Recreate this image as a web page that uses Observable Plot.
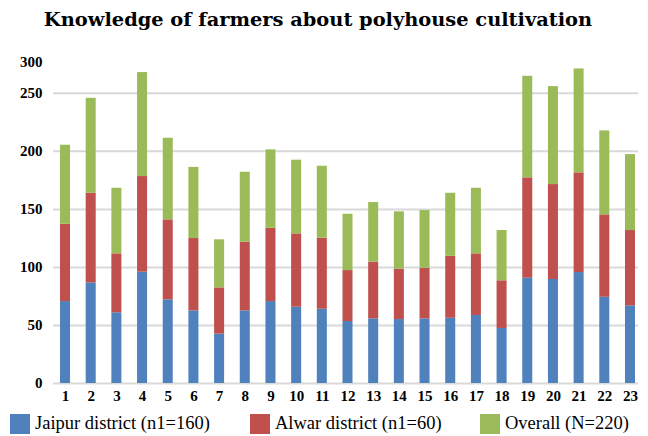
<!DOCTYPE html>
<html>
<head>
<meta charset="utf-8">
<script src="https://cdn.jsdelivr.net/npm/d3@7"></script>
<script src="https://cdn.jsdelivr.net/npm/@observablehq/plot@0.6"></script>
<style>
  body { margin: 0; width: 648px; height: 436px; position: relative; background: #fff; overflow: hidden; }
  #title { position: absolute; left: 0; top: 8px; width: 636px; text-align: center;
           font-family: "DejaVu Serif", serif; font-weight: bold; font-size: 19.4px; line-height: 24px; color: #000; white-space: nowrap; }
  #chart { position: absolute; left: 0; top: 40px; }
  #chart svg text { font-family: "Liberation Serif", serif !important; font-weight: bold !important; font-size: 15px !important; fill: #000; }
  #legend { position: absolute; left: 0; top: 410px; width: 648px; height: 26px; }
  .sw { position: absolute; top: 4px; width: 20px; height: 20px; }
  .lt { position: absolute; top: 2px; font-family: "Liberation Serif", serif; font-size: 18.5px; line-height: 22px; color: #000; white-space: nowrap; }
</style>
</head>
<body>
<div id="title">Knowledge of farmers about polyhouse cultivation</div>
<div id="chart"></div>
<div id="legend"></div>
<script>
// ---- data ----
const questions = [1,2,3,4,5,6,7,8,9,10,11,12,13,14,15,16,17,18,19,20,21,22,23];
const seriesNames = ["Jaipur district (n1=160)", "Alwar district (n1=60)", "Overall (N=220)"];
const seriesColors = ["#4f81bd", "#c0504d", "#9bbb59"];
const jaipur  = [70.6, 86.7, 60.9, 95.9, 72.1, 62.6, 42.5, 62.6, 70.6, 65.7, 64.0, 53.4, 55.7, 55.1, 55.7, 56.2, 58.6, 47.4, 90.7, 89.6, 95.6, 74.3, 66.9];
const alwar   = [66.6, 77.2, 50.8, 82.4, 68.9, 62.3, 39.9, 59.1, 63.2, 63.2, 61.2, 43.9, 48.8, 43.4, 43.6, 53.4, 53.1, 41.1, 86.5, 81.8, 85.9, 71.0, 64.9];
const overall = [68.1, 81.8, 56.5, 89.6, 70.3, 61.3, 41.4, 60.3, 67.5, 63.5, 62.0, 48.5, 51.4, 49.4, 49.7, 54.3, 56.5, 43.3, 87.5, 84.4, 89.5, 72.3, 65.4];
const yTicks = [0, 50, 100, 150, 200, 250];
const yTopLabel = ["300"];

const seriesValues = [jaipur, alwar, overall];
const rows = questions.flatMap((q, i) =>
  seriesNames.map((s, k) => ({ q, series: s, value: seriesValues[k][i] })));

const chart = Plot.plot({
  width: 648,
  height: 370,
  marginTop: 21.5,
  marginBottom: 27,
  marginLeft: 53,
  marginRight: 10,
  style: { background: "transparent", color: "#000" },
  x: { domain: questions, range: [53, 642], paddingInner: 0.61, paddingOuter: 0.273, align: 0.5, round: false },
  y: { domain: [0, 277] },
  color: { domain: seriesNames, range: seriesColors },
  marks: [
    Plot.ruleY(yTicks, { stroke: "#d9d9d9", strokeWidth: 2 }),
    Plot.barY(rows, { x: "q", y: "value", fill: "series" }),
    Plot.axisY(yTicks, { tickSize: 0, tickPadding: 11, label: null }),
    Plot.text(yTopLabel, { text: d => d, frameAnchor: "top-left", lineAnchor: "middle", dx: -11, textAnchor: "end" }),
    Plot.axisX({ tickSize: 0, tickPadding: 7, label: null })
  ]
});
document.getElementById("chart").appendChild(chart);

// legend
const legend = document.getElementById("legend");
const swX = [10, 250, 480];
seriesNames.forEach((name, k) => {
  const sw = document.createElement("div");
  sw.className = "sw";
  sw.style.left = swX[k] + "px";
  sw.style.background = seriesColors[k];
  legend.appendChild(sw);
  const t = document.createElement("div");
  t.className = "lt";
  t.style.left = (swX[k] + 25) + "px";
  t.textContent = name;
  legend.appendChild(t);
});
</script>
</body>
</html>
